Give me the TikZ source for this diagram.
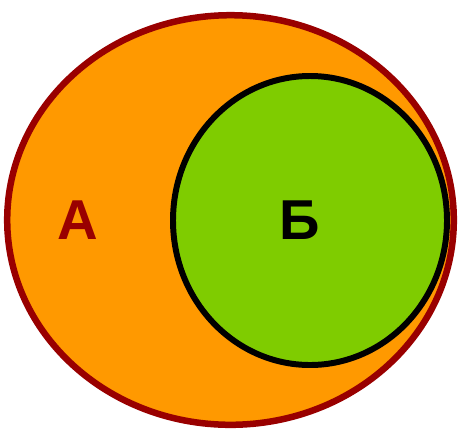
\documentclass[tikz,border=0pt]{standalone}
\usepackage{fontspec}
\setmainfont{Liberation Sans}
\usetikzlibrary{positioning}
\definecolor{setorange}{HTML}{FF9900}
\definecolor{setgreen}{HTML}{7FCC00}
\definecolor{setred}{HTML}{990000}
\tikzstyle{outer} = [fill=setorange, draw=setred, line width=3.7pt]
\tikzstyle{inner} = [fill=setgreen, draw=black, line width=3.4pt]
\tikzstyle{label} = [inner sep=0pt, font=\fontsize{32}{36}\selectfont\bfseries]

\begin{document}
\begin{tikzpicture}[x=0.02cm, y=-0.02cm]
    \useasboundingbox (0,0) rectangle (459,430);
    % Множество А и его подмножество Б
    \draw [outer] (230.5,220) ellipse [x radius=223.3, y radius=204.8];
    \draw [inner] (310,220.5) ellipse [x radius=137, y radius=144.5];
    \node (lblA) [label, text=setred] at (78,220) {А};
    \node (lblB) [label, text=black] at (300,220) {Б};
\end{tikzpicture}
\end{document}
